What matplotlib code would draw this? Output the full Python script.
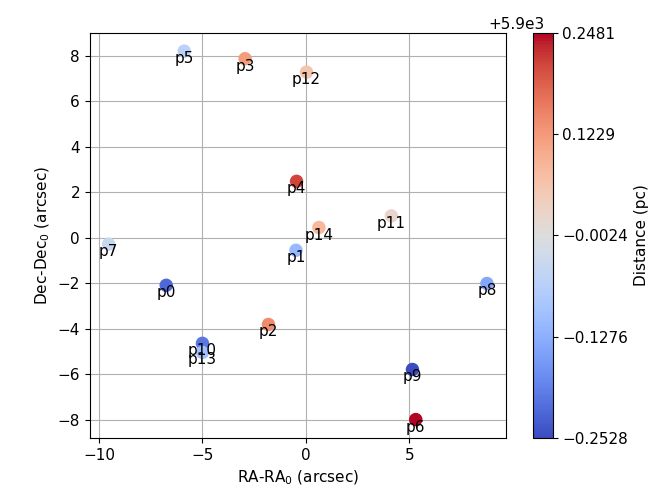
import numpy as np
import matplotlib.pyplot as plt
from matplotlib.ticker import MultipleLocator

# point names, offsets (arcsec) and distances (pc)
names = ["p0", "p1", "p2", "p3", "p4", "p5", "p6", "p7",
         "p8", "p9", "p10", "p11", "p12", "p13", "p14"]
ra = [-6.75, -0.48, -1.81, -2.94, -0.45, -5.88, 5.31, -9.53,
      8.75, 5.15, -5.0, 4.13, 0.03, -5.0, 0.63]
dec = [-2.09, -0.55, -3.81, 7.87, 2.48, 8.2, -7.99, -0.28,
       -2.01, -5.79, -4.64, 0.96, 7.28, -5.04, 0.45]
dist = [5899.78, 5899.89, 5900.14, 5900.12, 5900.21, 5899.94, 5900.2481, 5899.96,
        5899.86, 5899.7472, 5899.80, 5900.02, 5900.06, 5899.90, 5900.08]

fig = plt.figure(figsize=(6.7, 5.04), dpi=100)
ax = fig.add_axes([0.134, 0.131, 0.621, 0.804])
cax = fig.add_axes([0.795, 0.131, 0.030, 0.804])

sc = ax.scatter(ra, dec, c=dist, cmap="coolwarm", s=75, zorder=3)
for n, x, y in zip(names, ra, dec):
    ax.text(x, y, n, ha="center", va="top", fontsize=11, zorder=4)

ax.xaxis.set_major_locator(MultipleLocator(5))
ax.grid(True)
ax.set_axisbelow(True)
ax.set_xlabel("RA-RA$_0$ (arcsec)", fontsize=11)
ax.set_ylabel("Dec-Dec$_0$ (arcsec)", fontsize=11)
ax.tick_params(labelsize=11)

cb = fig.colorbar(sc, cax=cax)
cb.set_ticks(np.linspace(min(dist), max(dist), 5))
cb.set_label("Distance (pc)", fontsize=11)
cb.ax.tick_params(labelsize=11)
off = cb.ax.yaxis.get_offset_text()
off.set_fontsize(11)
off.set_horizontalalignment("right")
off.set_x(0.6)

fig.savefig("out.png", dpi=100)
